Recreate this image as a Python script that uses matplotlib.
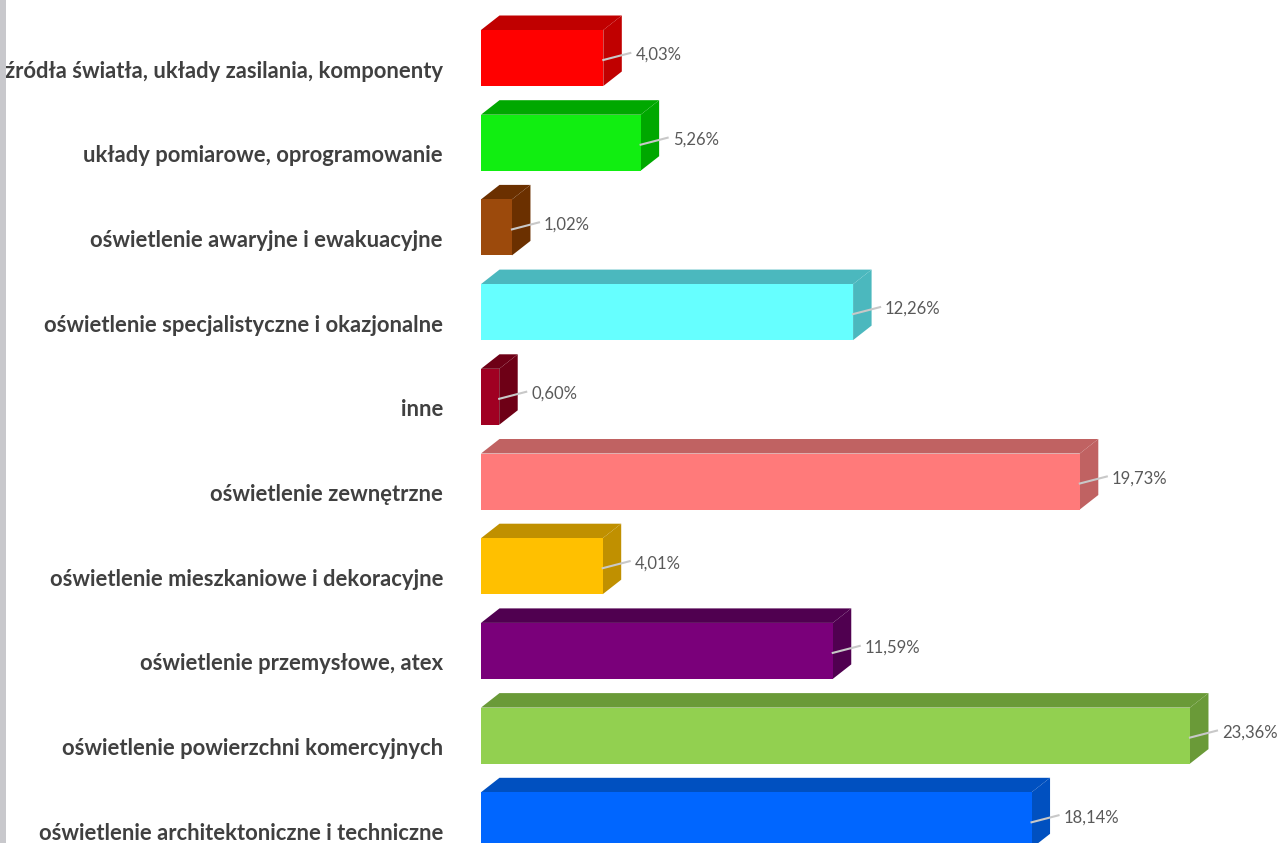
import matplotlib
matplotlib.use('Agg')

import matplotlib.pyplot as plt
from matplotlib.patches import Polygon, Rectangle

categories = [
    "źródła światła, układy zasilania, komponenty",
    "układy pomiarowe, oprogramowanie",
    "oświetlenie awaryjne i ewakuacyjne",
    "oświetlenie specjalistyczne i okazjonalne",
    "inne",
    "oświetlenie zewnętrzne",
    "oświetlenie mieszkaniowe i dekoracyjne",
    "oświetlenie przemysłowe, atex",
    "oświetlenie powierzchni komercyjnych",
    "oświetlenie architektoniczne i techniczne",
]
values = [4.03, 5.26, 1.02, 12.26, 0.60, 19.73, 4.01, 11.59, 23.36, 18.14]
front_colors = ["#ff0000", "#11ee11", "#9c4a0c", "#66ffff", "#a00022",
                "#ff7a7a", "#ffc000", "#7a007a", "#92d050", "#0066ff"]
dark_colors = ["#c00000", "#00a800", "#6b3000", "#4bb8be", "#6e0016",
               "#c06262", "#c09000", "#500050", "#6a9a38", "#0050c0"]

W, H = 1280, 843
fig = plt.figure(figsize=(W / 100, H / 100), dpi=100)
ax = fig.add_axes([0, 0, 1, 1])

# pixel geometry -> data units
px_x = 30.35      # pixels per percent
px_y = 84.7       # pixels per row
x0_px = 481
y0_px = 58
ax.set_xlim(-x0_px / px_x, (W - x0_px) / px_x)
ax.set_ylim((H - y0_px) / px_y, -y0_px / px_y)
ax.axis('off')

h = 56 / px_y
dx = 18.5 / px_x
dy = -14.5 / px_y

rows = list(range(len(values)))
ax.barh(rows, values, height=h, color=front_colors, zorder=3)

for i, v in enumerate(values):
    top = i - h / 2
    bot = i + h / 2
    ax.add_patch(Polygon([(0, top), (dx, top + dy), (v + dx, top + dy), (v, top)],
                         closed=True, facecolor=dark_colors[i], edgecolor='none', zorder=2))
    ax.add_patch(Polygon([(v, top), (v + dx, top + dy), (v + dx, bot + dy), (v, bot)],
                         closed=True, facecolor=dark_colors[i], edgecolor='none', zorder=2))
    # leader line and value label
    ax.plot([v, v + 27 / px_x], [i + 2 / px_y, i - 5 / px_y],
            color='#c8c8c8', lw=1.5, zorder=4)
    ax.text(v + 32 / px_x, i - 3 / px_y, f"{v:.2f}%".replace('.', ','),
            ha='left', va='center', fontsize=12, color='#595959',
            family='Lato', zorder=5)
    # category label
    ax.text(-38 / px_x, i + 13 / px_y, categories[i], ha='right', va='center',
            fontsize=15.8, color='#404040', family='Lato', fontweight='bold', zorder=5)

# gray strip at the left edge
fig.patches.append(Rectangle((0, 0), 6 / W, 1, transform=fig.transFigure,
                             facecolor='#c8c8cc', edgecolor='none'))

fig.savefig("out.png", dpi=100)
